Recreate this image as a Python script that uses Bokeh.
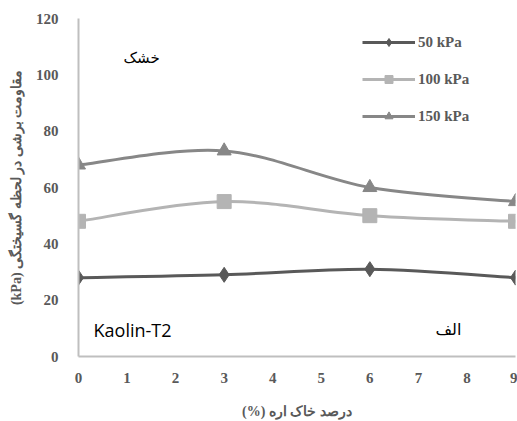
from bokeh.plotting import figure
from bokeh.models import ColumnDataSource, Legend, LegendItem, Label, FixedTicker
from bokeh.embed import file_html
from bokeh.resources import INLINE

# data
x_vals = [0, 3, 6, 9]
s50 = [28, 29, 31, 28]
s100 = [48, 55, 50, 48]
s150 = [68, 73, 60, 55]
series_names = ["50 kPa", "100 kPa", "150 kPa"]
x_ticks = list(range(0, 10))
y_ticks = list(range(0, 121, 20))

colors = ["#595959", "#b4b4b4", "#878787"]
markers = ["diamond", "square", "triangle"]
msizes = [15, 14, 14]

p = figure(width=517, height=421, output_backend="svg", toolbar_location=None,
           x_range=(0, 9), y_range=(0, 120),
           min_border_left=78, min_border_right=2, min_border_top=18, min_border_bottom=64)
p.outline_line_color = None
p.xgrid.grid_line_color = None
p.ygrid.grid_line_color = None
p.background_fill_color = "white"

for ax in (p.xaxis[0], p.yaxis[0]):
    ax.axis_line_color = "#bfbfbf"
    ax.axis_line_width = 2
    ax.major_tick_line_color = None
    ax.minor_tick_line_color = None
    ax.major_label_text_font = "Liberation Serif"
    ax.major_label_text_font_style = "bold"
    ax.major_label_text_font_size = "15px"
    ax.major_label_text_color = "#595959"
    ax.axis_label_text_font = "Liberation Serif"
    ax.axis_label_text_font_style = "bold"
    ax.axis_label_text_font_size = "14px"
    ax.axis_label_text_color = "#595959"

p.xaxis[0].ticker = FixedTicker(ticks=x_ticks)
p.yaxis[0].ticker = FixedTicker(ticks=y_ticks)
p.xaxis[0].major_label_standoff = 10
p.yaxis[0].major_label_standoff = 14
p.xaxis[0].axis_label = "(%) درصد خاک اره"
p.yaxis[0].axis_label = "(kPa) مقاومت برشی در لحظه گسیختگی"
p.xaxis[0].axis_label_standoff = 18
p.yaxis[0].axis_label_standoff = 9


def smooth_segments(xs, ys):
    n = len(xs)
    x0, y0, x1, y1, cx0, cy0, cx1, cy1 = [], [], [], [], [], [], [], []
    for i in range(n - 1):
        pxm, pym = (xs[i - 1], ys[i - 1]) if i > 0 else (xs[i], ys[i])
        pxp, pyp = (xs[i + 2], ys[i + 2]) if i + 2 < n else (xs[i + 1], ys[i + 1])
        x0.append(xs[i]); y0.append(ys[i])
        x1.append(xs[i + 1]); y1.append(ys[i + 1])
        cx0.append(xs[i] + (xs[i + 1] - pxm) / 6.0)
        cy0.append(ys[i] + (ys[i + 1] - pym) / 6.0)
        cx1.append(xs[i + 1] - (pxp - xs[i]) / 6.0)
        cy1.append(ys[i + 1] - (pyp - ys[i]) / 6.0)
    return dict(x0=x0, y0=y0, x1=x1, y1=y1, cx0=cx0, cy0=cy0, cx1=cx1, cy1=cy1)


items = []
for name, ys, c, m, ms in zip(series_names, [s50, s100, s150], colors, markers, msizes):
    seg = ColumnDataSource(smooth_segments(x_vals, ys))
    p.bezier(x0="x0", y0="y0", x1="x1", y1="y1", cx0="cx0", cy0="cy0",
             cx1="cx1", cy1="cy1", source=seg, line_color=c, line_width=3)
    lr = p.line(x=[float("nan")], y=[float("nan")], line_color=c, line_width=3)
    sr = p.scatter(x=x_vals, y=ys, marker=m, size=ms, fill_color=c, line_color=c)
    items.append(LegendItem(label=name, renderers=[lr, sr]))

legend = Legend(items=items, location=(284, 230), orientation="vertical",
                glyph_width=53, glyph_height=20, label_height=20, spacing=17,
                padding=0, margin=0, border_line_color=None,
                background_fill_alpha=0,
                label_text_font="Liberation Serif", label_text_font_style="bold",
                label_text_font_size="15px", label_text_color="#595959",
                label_standoff=3)
p.add_layout(legend, "center")

p.add_layout(Label(x=1.3, y=106, text="خشک", text_align="center", text_baseline="middle",
                   text_font="DejaVu Sans", text_font_size="15px", text_color="#000000"))
p.add_layout(Label(x=0.31, y=9.5, text="Kaolin-T2", text_align="left", text_baseline="middle",
                   text_font="Open Sans", text_font_size="18px", text_color="#000000"))
p.add_layout(Label(x=7.62, y=9.5, text="الف", text_align="center", text_baseline="middle",
                   text_font="DejaVu Sans", text_font_size="16px", text_color="#000000"))

open("out.html", "w").write(file_html(p, INLINE))
